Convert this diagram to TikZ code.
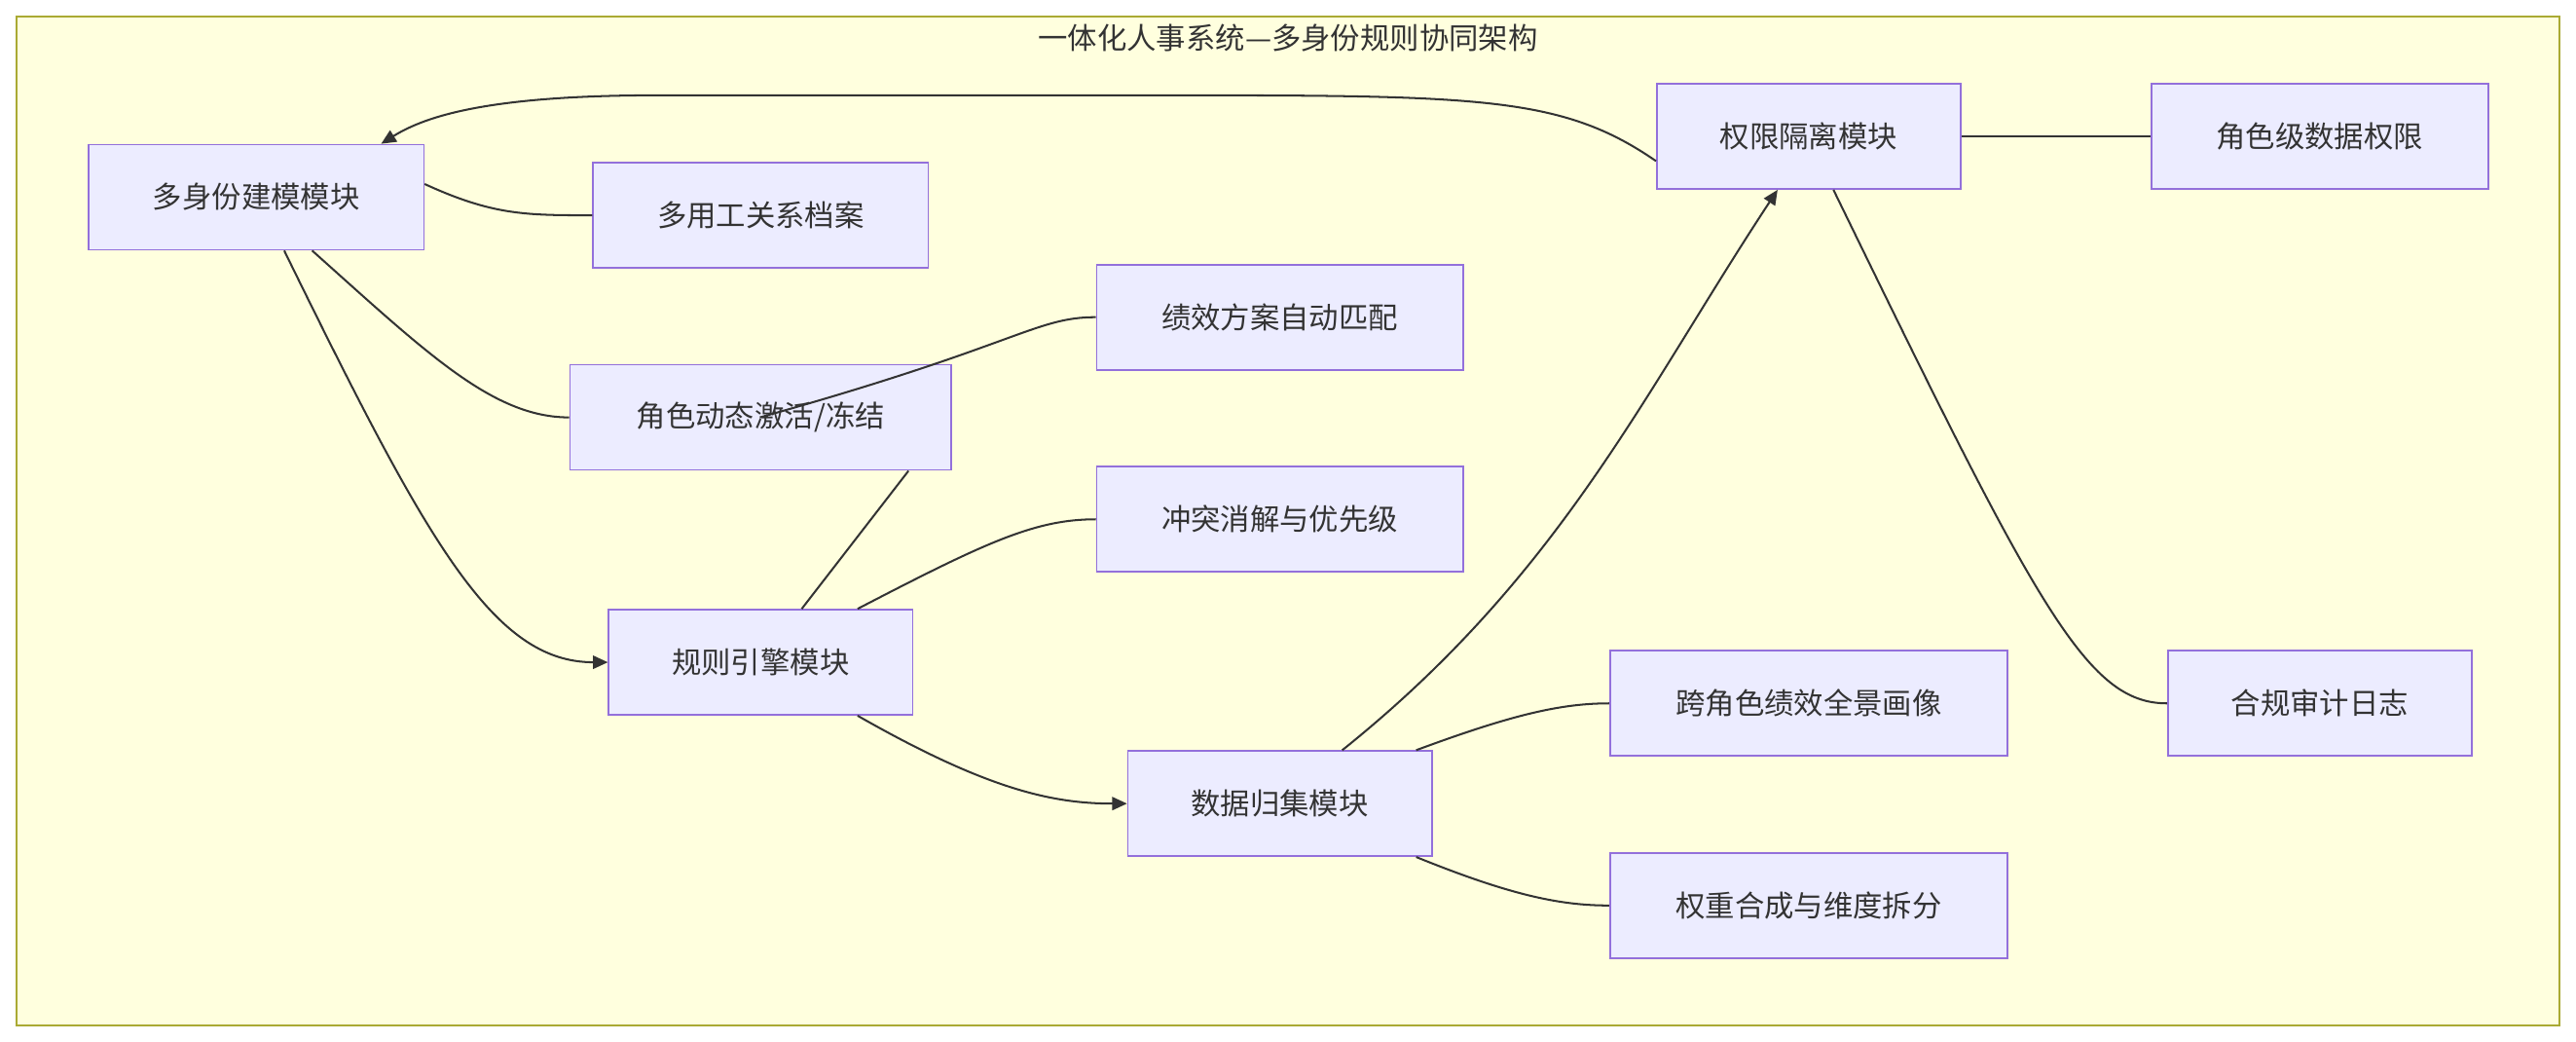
\documentclass[tikz,border=0pt]{standalone}
\usepackage{fontspec}
\newfontfamily\cjk{Noto Sans CJK SC}
\usetikzlibrary{arrows.meta,calc}
\definecolor{nfill}{HTML}{ECECFF}
\definecolor{nstroke}{HTML}{9370DB}
\definecolor{bgfill}{HTML}{FFFFDE}
\definecolor{bgstroke}{HTML}{AAAA33}
\definecolor{txt}{HTML}{333333}
\begin{document}
\begin{tikzpicture}[x=1pt,y=-1pt,
  box/.style={draw=nstroke,fill=nfill,line width=1pt,minimum height=64pt,inner sep=0pt,font=\cjk\fontsize{18}{20}\selectfont,text=txt},
  e/.style={draw=txt,line width=1.2pt},
  a/.style={e,-{Triangle[length=9pt,width=8pt]}}]
\useasboundingbox (0,0) rectangle (1568,634);
\draw[bgstroke,fill=bgfill,line width=1pt] (10,10) rectangle (1558,624);
\node[font=\cjk\fontsize{18}{20}\selectfont,text=txt] (title) at (784,23) {一体化人事系统—多身份规则协同架构};
\node[box,minimum width=204pt] (m) at (156,120) {多身份建模模块};
\node[box,minimum width=204pt] (g) at (463,131) {多用工关系档案};
\node[box,minimum width=232pt] (j) at (463,254) {角色动态激活/冻结};
\node[box,minimum width=223pt] (p) at (779,193) {绩效方案自动匹配};
\node[box,minimum width=223pt] (c) at (779,316) {冲突消解与优先级};
\node[box,minimum width=185pt] (r) at (463,403) {规则引擎模块};
\node[box,minimum width=185pt] (d) at (779,489) {数据归集模块};
\node[box,minimum width=242pt] (k) at (1101,428) {跨角色绩效全景画像};
\node[box,minimum width=242pt] (w) at (1101,551) {权重合成与维度拆分};
\node[box,minimum width=185pt] (q) at (1101,83) {权限隔离模块};
\node[box,minimum width=205pt] (s) at (1412,83) {角色级数据权限};
\node[box,minimum width=185pt] (h) at (1412,428) {合规审计日志};
% edges
\draw[e] ([yshift=8pt]m.east) .. controls (300,131) and (320,131) .. (g.west);
\draw[e] ([xshift=34pt]m.south) .. controls (260,215) and (300,254) .. (j.west);
\draw[a] ([xshift=17pt]m.south) .. controls (260,330) and (300,403) .. (r.west);
\draw[e] ([xshift=116pt]j.west) .. controls (620,210) and (630,193) .. (p.west);
\draw[e] ([xshift=90pt]j.south) -- ([xshift=25pt]r.north);
\draw[e] ([xshift=59pt]r.north) .. controls (600,330) and (630,316) .. (c.west);
\draw[a] ([xshift=59pt]r.south) .. controls (600,480) and (640,489) .. (d.west);
\draw[a] ([xshift=38pt]d.north) .. controls (950,350) and (1000,240) .. ([xshift=-19pt]q.south);
\draw[e] ([xshift=83pt]d.north) .. controls (920,435) and (950,428) .. (k.west);
\draw[e] ([xshift=83pt]d.south) .. controls (920,545) and (950,551) .. (w.west);
\draw[a] ([yshift=-15pt]q.west) .. controls (950,58) and (900,58) .. (700,58) -- (400,58) .. controls (300,58) and (260,70) .. ([xshift=76pt]m.north);
\draw[e] (q.east) -- (s.west);
\draw[e] ([xshift=15pt]q.south) .. controls (1240,370) and (1270,428) .. (h.west);
\end{tikzpicture}
\end{document}
